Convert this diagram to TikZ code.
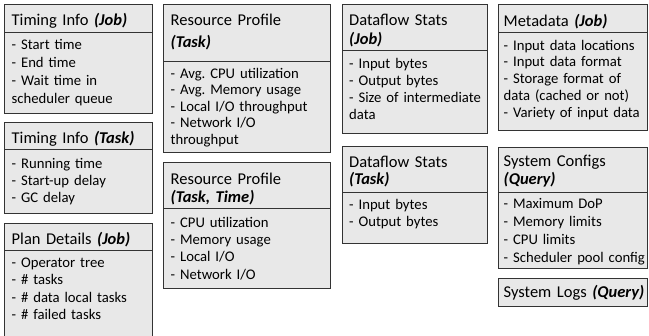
\documentclass[tikz,border=0pt]{standalone}
\usepackage{fontspec}
\setmainfont{Carlito}
\newcommand{\qual}[1]{\textbf{\textit{#1}}}
\frenchspacing
\begin{document}
\begin{tikzpicture}[x=1bp,y=-1bp,
  box/.style={draw=black!80,line width=1bp,fill=black!9},
  rule/.style={draw=black!80,line width=1bp},
  head/.style={anchor=base west,inner sep=0pt,text width=150bp,align=left,
    font=\fontsize{16.5bp}{#1}\selectfont},
  head/.default=20bp,
  body/.style={anchor=base west,inner sep=0pt,text width=150bp,align=left,
    font=\fontsize{14.7bp}{#1}\selectfont},
  body/.default=17.5bp]
  \clip (0,0) rectangle (649,335);
  % first column
  \draw[box] (4,4) rectangle (152,113);
  \draw[rule] (4,32) -- (152,32);
  \node[head] (tjob) at (11.5,25) {Timing Info \qual{(Job)}};
  \node[body=18.3bp] (tjobitems) at (11.5,49)
    {- Start time\\- End time\\- Wait time in\\scheduler queue};
  \draw[box] (4,122) rectangle (152,213);
  \draw[rule] (4,149) -- (152,149);
  \node[head] (ttask) at (11.5,143) {Timing Info \qual{(Task)}};
  \node[body=17.3bp] (ttaskitems) at (11.5,168)
    {- Running time\\- Start-up delay\\- GC delay};
  \draw[box] (4,223) rectangle (152,345);
  \draw[rule] (4,250) -- (152,250);
  \node[head] (plan) at (11.5,244) {Plan Details \qual{(Job)}};
  \node[body=17.5bp] (planitems) at (11.5,267)
    {- Operator tree\\- \# tasks\\- \# data local tasks\\- \# failed tasks};
  % second column
  \draw[box] (163,4) rectangle (330,152);
  \draw[rule] (163,61) -- (330,61);
  \node[head=22.5bp] (rtask) at (170.5,25) {Resource Profile\\\qual{(Task)}};
  \node[body=16.5bp] (rtaskitems) at (170.5,78)
    {- Avg. CPU utilization\\- Avg. Memory usage\\- Local I/O throughput\\
     - Network I/O\\throughput};
  \draw[box] (163,162) rectangle (330,288);
  \draw[rule] (163,208) -- (330,208);
  \node[head=18bp] (rtime) at (170.5,184) {Resource Profile\\\qual{(Task, Time)}};
  \node[body=17.4bp] (rtimeitems) at (170.5,227)
    {- CPU utilization\\- Memory usage\\- Local I/O\\- Network I/O};
  % third column
  \draw[box] (342,4) rectangle (487,133);
  \draw[rule] (342,50) -- (487,50);
  \node[head=19bp] (djob) at (349,25) {Dataflow Stats\\\qual{(Job)}};
  \node[body=17.3bp] (djobitems) at (349,68)
    {- Input bytes\\- Output bytes\\- Size of intermediate\\data};
  \draw[box] (342,146) rectangle (487,243);
  \draw[rule] (342,192) -- (487,192);
  \node[head=17.5bp] (dtask) at (349,167) {Dataflow Stats\\\qual{(Task)}};
  \node[body=17.5bp] (dtaskitems) at (349,209)
    {- Input bytes\\- Output bytes};
  % fourth column
  \draw[box] (498,4) rectangle (647,130);
  \draw[rule] (498,32) -- (647,32);
  \node[head] (meta) at (503.5,26) {Metadata \qual{(Job)}};
  \node[body=16.9bp] (metaitems) at (503.5,50)
    {- Input data locations\\- Input data format\\- Storage format of\\
     data (cached or not)\\- Variety of input data};
  \draw[box] (498,147) rectangle (647,268);
  \draw[rule] (498,192) -- (647,192);
  \node[head=18bp] (conf) at (503.5,166) {System Configs\\\qual{(Query)}};
  \node[body=18bp] (confitems) at (503.5,208)
    {- Maximum DoP\\- Memory limits\\- CPU limits\\- Scheduler pool config};
  \draw[box] (498,278) rectangle (647,306);
  \node[head] (logs) at (503.5,297) {System Logs \qual{(Query)}};
\end{tikzpicture}
\end{document}
